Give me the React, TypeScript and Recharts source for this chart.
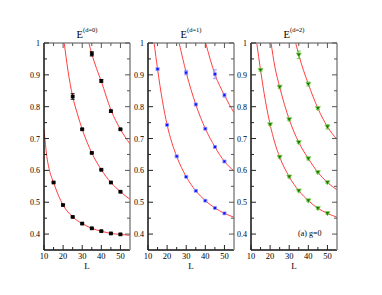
import React from 'react';
import { ComposedChart, Line, Scatter, ErrorBar, XAxis, YAxis } from 'recharts';

// tick values
const xTicks = [10, 15, 20, 25, 30, 35, 40, 45, 50];
const yTicks = [0.4, 0.45, 0.5, 0.55, 0.6, 0.65, 0.7, 0.75, 0.8, 0.85, 0.9, 0.95, 1];

// measured energies [L, E, error]
const d0Low = [[15, 0.562, 0.002], [20, 0.491, 0.002], [25, 0.454, 0.002], [30, 0.433, 0.002], [35, 0.418, 0.002], [40, 0.409, 0.002], [45, 0.402, 0.002], [50, 0.399, 0.002]];
const d0Mid = [[25, 0.832, 0.009], [30, 0.729, 0.002], [35, 0.655, 0.002], [40, 0.602, 0.002], [45, 0.562, 0.002], [50, 0.533, 0.002]];
const d0High = [[35, 0.966, 0.007], [40, 0.881, 0.004], [45, 0.786, 0.003], [50, 0.729, 0.002]];

const d1Low = [[15, 0.918, 0.003], [20, 0.743, 0.002], [25, 0.644, 0.002], [30, 0.58, 0.002], [35, 0.536, 0.002], [40, 0.505, 0.002], [45, 0.482, 0.002], [50, 0.465, 0.002]];
const d1Mid = [[30, 0.907, 0.007], [35, 0.807, 0.004], [40, 0.731, 0.003], [45, 0.674, 0.003], [50, 0.628, 0.003]];
const d1High = [[45, 0.902, 0.014], [50, 0.836, 0.006]];

const d2Low = [[15, 0.915, 0.003], [20, 0.744, 0.002], [25, 0.642, 0.003], [30, 0.58, 0.003], [35, 0.536, 0.003], [40, 0.505, 0.003], [45, 0.481, 0.003], [50, 0.465, 0.003]];
const d2Mid = [[25, 0.862, 0.004], [30, 0.76, 0.004], [35, 0.688, 0.003], [40, 0.637, 0.004], [45, 0.594, 0.003], [50, 0.562, 0.003]];
const d2High = [[35, 0.963, 0.012], [40, 0.871, 0.006], [45, 0.795, 0.004], [50, 0.737, 0.007]];

// fitted curves [L, E]
const fit0Low = [[10, 0.728], [11.5, 0.643], [13, 0.597], [15, 0.562], [17.5, 0.522], [20, 0.491], [25, 0.454], [30, 0.433], [35, 0.418], [40, 0.409], [45, 0.402], [50, 0.399], [55, 0.396]];
const fit0Mid = [[20.6, 1.0], [22.5, 0.915], [25, 0.832], [27.5, 0.777], [30, 0.729], [35, 0.655], [40, 0.602], [45, 0.562], [50, 0.533], [55, 0.509]];
const fit0High = [[33.5, 1.0], [35, 0.966], [37.5, 0.92], [40, 0.879], [45, 0.79], [50, 0.729], [55, 0.683]];

const fit1Low = [[13.2, 1.0], [15, 0.918], [17.5, 0.82], [20, 0.743], [22.5, 0.687], [25, 0.644], [30, 0.58], [35, 0.536], [40, 0.505], [45, 0.482], [50, 0.465], [55, 0.453]];
const fit1Mid = [[26.3, 1.0], [30, 0.907], [35, 0.807], [40, 0.731], [45, 0.674], [50, 0.628], [55, 0.598]];
const fit1High = [[40.2, 1.0], [45, 0.902], [50, 0.836], [55, 0.781]];

const fit2Low = [[13.0, 1.0], [15, 0.915], [17.5, 0.82], [20, 0.744], [22.5, 0.686], [25, 0.642], [30, 0.58], [35, 0.536], [40, 0.505], [45, 0.481], [50, 0.465], [55, 0.453]];
const fit2Mid = [[20.5, 1.0], [22.5, 0.925], [25, 0.862], [30, 0.76], [35, 0.688], [40, 0.637], [45, 0.594], [50, 0.562], [55, 0.539]];
const fit2High = [[33.4, 1.0], [35, 0.963], [40, 0.871], [45, 0.795], [50, 0.737], [55, 0.697]];

const FONT = 'Liberation Serif, DejaVu Serif, serif';
const RED = '#ff4040';

const toPts = (arr: number[][]) => arr.map(([L, E, err]) => ({ L, E, err }));
const toFit = (arr: number[][]) => arr.map(([L, E]) => ({ L, E }));

const isMajorX = (v: number) => Math.round(v) % 10 === 0;
const isMajorY = (v: number) => Math.round(v * 100) % 10 === 0;

const BottomTick = (props: any) => {
  const { x, y, payload } = props;
  const major = isMajorX(payload.value);
  return (
    <g>
      <line x1={x} y1={y} x2={x} y2={y - (major ? 5 : 3)} stroke="#222" strokeWidth={1} />
      {major && (
        <text x={x} y={y + 9} textAnchor="middle" fontSize={8.5} fontFamily={FONT} fill="#000">
          {payload.value}
        </text>
      )}
    </g>
  );
};

const TopTick = (props: any) => {
  const { x, y, payload } = props;
  const major = isMajorX(payload.value);
  return <line x1={x} y1={y} x2={x} y2={y + (major ? 5 : 3)} stroke="#555" strokeWidth={1} />;
};

const LeftTick = (props: any) => {
  const { x, y, payload } = props;
  const v = payload.value;
  const major = isMajorY(v);
  return (
    <g>
      <line x1={x} y1={y} x2={x + (major ? 5 : 3)} y2={y} stroke="#222" strokeWidth={1} />
      {major && (
        <text x={x - 4} y={y + 3} textAnchor="end" fontSize={8} fontFamily={FONT} fill="#000">
          {v === 1 ? '1' : v.toFixed(1)}
        </text>
      )}
    </g>
  );
};

const RightTick = (props: any) => {
  const { x, y, payload } = props;
  const major = isMajorY(payload.value);
  return <line x1={x} y1={y} x2={x - (major ? 5 : 3)} y2={y} stroke="#555" strokeWidth={1} />;
};

const Square = (fill: string, stroke: string) => (props: any) => {
  const { cx, cy } = props;
  if (cx == null || cy == null) return null;
  return <rect x={cx - 1.5} y={cy - 1.5} width={3} height={3} fill={fill} stroke={stroke} strokeWidth={0.7} />;
};

const Triangle = (fill: string, stroke: string) => (props: any) => {
  const { cx, cy } = props;
  if (cx == null || cy == null) return null;
  return <path d={`M${cx - 2.5},${cy - 1.8} L${cx + 2.5},${cy - 1.8} L${cx},${cy + 2.5} Z`} fill={fill} stroke={stroke} strokeWidth={0.8} />;
};

interface PanelProps {
  left: number;
  label: string;
  points: number[][][];
  fits: number[][][];
  shape: (props: any) => any;
  errColor: string;
  note?: string;
}

const Panel: React.FC<PanelProps> = ({ left, label, points, fits, shape, errColor, note }) => (
  <div style={{ position: 'absolute', left, top: 0, width: 119, height: 295 }}>
    <div
      style={{
        position: 'absolute',
        left: 30,
        width: 86,
        top: 29,
        textAlign: 'center',
        fontFamily: FONT,
        fontSize: 10.5,
        lineHeight: '12px',
      }}
    >
      E<sup style={{ fontSize: 6.5, verticalAlign: 'top', lineHeight: '6px', position: 'relative', top: -2 }}>({label})</sup>
    </div>
    <ComposedChart width={119} height={295} margin={{ top: 42, right: 2, left: 0, bottom: 0 }}>
      <XAxis
        xAxisId="b"
        dataKey="L"
        type="number"
        domain={[10, 55]}
        allowDataOverflow
        ticks={xTicks}
        interval={0}
        height={45}
        tickSize={0}
        tickMargin={0}
        tick={<BottomTick />}
        axisLine={{ stroke: '#111', strokeWidth: 1.5 }}
        label={{ value: 'L', position: 'insideTop', offset: 13, fontSize: 9, fontFamily: FONT, fill: '#000' }}
      />
      <XAxis
        xAxisId="t"
        orientation="top"
        dataKey="L"
        type="number"
        domain={[10, 55]}
        allowDataOverflow
        ticks={xTicks}
        interval={0}
        height={1}
        tickSize={0}
        tickMargin={0}
        tick={<TopTick />}
        axisLine={{ stroke: '#888', strokeWidth: 1.5 }}
      />
      <YAxis
        yAxisId="l"
        dataKey="E"
        type="number"
        domain={[0.35, 1]}
        allowDataOverflow
        ticks={yTicks}
        interval={0}
        width={30}
        tickSize={0}
        tickMargin={0}
        tick={<LeftTick />}
        axisLine={{ stroke: '#111', strokeWidth: 1.5 }}
      />
      <YAxis
        yAxisId="r"
        orientation="right"
        dataKey="E"
        type="number"
        domain={[0.35, 1]}
        allowDataOverflow
        ticks={yTicks}
        interval={0}
        width={1}
        tickSize={0}
        tickMargin={0}
        tick={<RightTick />}
        axisLine={{ stroke: '#888', strokeWidth: 1.5 }}
      />
      {fits.map((f, i) => (
        <Line
          key={'f' + i}
          xAxisId="b"
          yAxisId="l"
          data={toFit(f)}
          dataKey="E"
          type="monotone"
          stroke={RED}
          strokeWidth={1}
          dot={false}
          activeDot={false}
          isAnimationActive={false}
        />
      ))}
      {points.map((p, i) => (
        <Scatter
          key={'p' + i}
          xAxisId="b"
          yAxisId="l"
          data={toPts(p)}
          dataKey="E"
          shape={shape}
          isAnimationActive={false}
        >
          <ErrorBar dataKey="err" direction="y" width={2} stroke={errColor} strokeWidth={0.8} isAnimationActive={false} />
        </Scatter>
      ))}
    </ComposedChart>
    {note && (
      <div style={{ position: 'absolute', left: 77, top: 229, fontFamily: FONT, fontSize: 8, whiteSpace: 'nowrap' }}>
        {note}
      </div>
    )}
  </div>
);

export default function App() {
  return (
    <div style={{ position: 'absolute', left: 0, top: 0, width: 382, height: 295, background: '#fff', overflow: 'hidden' }}>
      <Panel
        left={14}
        label="d=0"
        points={[d0Low, d0Mid, d0High]}
        fits={[fit0Low, fit0Mid, fit0High]}
        shape={Square('#000', '#000')}
        errColor="#000"
      />
      <Panel
        left={118}
        label="d=1"
        points={[d1Low, d1Mid, d1High]}
        fits={[fit1Low, fit1Mid, fit1High]}
        shape={Square('#1010ff', '#9a9aff')}
        errColor="#8c8cff"
      />
      <Panel
        left={221}
        label="d=2"
        points={[d2Low, d2Mid, d2High]}
        fits={[fit2Low, fit2Mid, fit2High]}
        shape={Triangle('#1f6e00', '#86d860')}
        errColor="#5fbf3a"
        note="(a) g=0"
      />
    </div>
  );
}
